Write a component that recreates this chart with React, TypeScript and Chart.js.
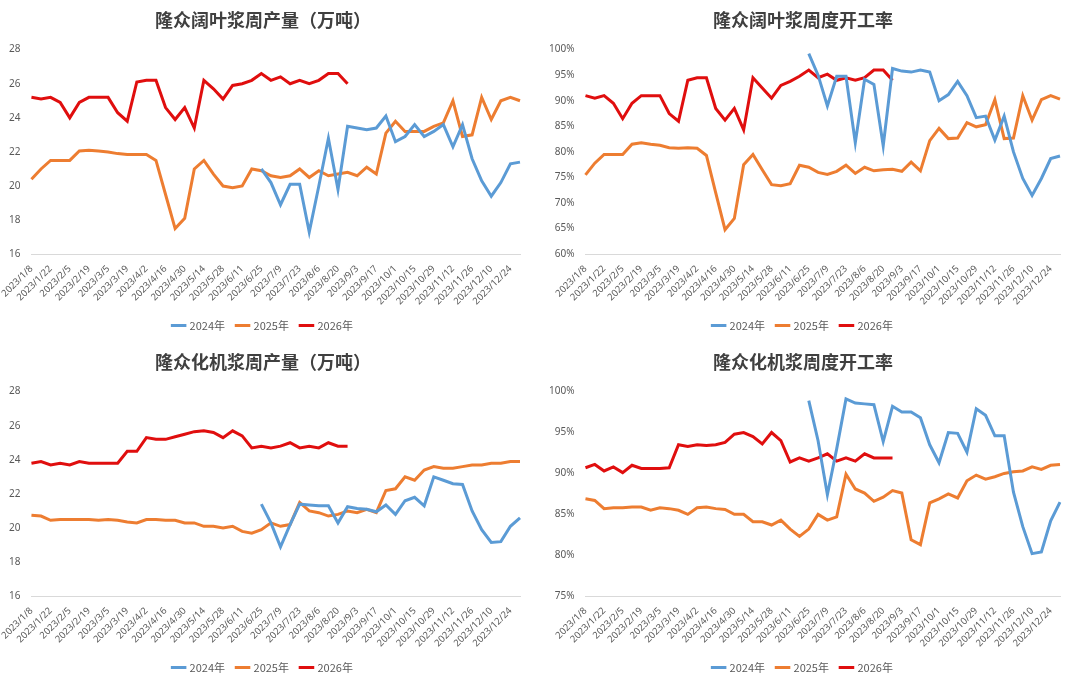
import React, { useEffect, useRef } from "react";
import { Chart, registerables } from "chart.js";
Chart.register(...registerables);

const weeks: string[] = [];
{
  const d = new Date(2023, 0, 8);
  for (let i = 0; i < 52; i++) {
    weeks.push(`${d.getFullYear()}/${d.getMonth() + 1}/${d.getDate()}`);
    d.setDate(d.getDate() + 7);
  }
}
const N = null;
const pad = (n: number) => Array(n).fill(N);

// 隆众阔叶浆周产量
const p1_2024 = [...pad(24), 21.0, 20.2, 18.9, 20.1, 20.1, 17.3, 20.0, 22.8, 19.8, 23.5, 23.4, 23.3, 23.4, 24.1, 22.6, 22.9, 23.6, 22.9, 23.2, 23.6, 22.3, 23.6, 21.6, 20.3, 19.4, 20.2, 21.3, 21.4];
const p1_2025 = [20.4, 21.0, 21.5, 21.5, 21.5, 22.05, 22.1, 22.05, 22.0, 21.9, 21.85, 21.85, 21.85, 21.5, 19.5, 17.5, 18.1, 21.0, 21.5, 20.7, 20.0, 19.9, 20.0, 21.0, 20.9, 20.6, 20.5, 20.6, 21.0, 20.5, 20.9, 20.6, 20.7, 20.8, 20.6, 21.1, 20.7, 23.1, 23.8, 23.2, 23.2, 23.2, 23.5, 23.7, 25.0, 22.9, 23.0, 25.2, 23.9, 25.0, 25.2, 25.0];
const p1_2026 = [25.2, 25.1, 25.2, 24.9, 24.0, 24.9, 25.2, 25.2, 25.2, 24.3, 23.8, 26.1, 26.2, 26.2, 24.6, 23.9, 24.6, 23.4, 26.2, 25.7, 25.1, 25.9, 26.0, 26.2, 26.6, 26.2, 26.4, 26.0, 26.2, 26.0, 26.2, 26.6, 26.6, 26.0];

// 隆众阔叶浆周度开工率 (%)
const p2_2024 = [...pad(24), 99.2, 95, 89, 94.8, 94.8, 81.8, 94.2, 93.2, 81.2, 96.3, 95.8, 95.6, 96, 95.6, 90, 91.2, 93.8, 91, 86.7, 87, 82.3, 87, 80, 74.8, 71.5, 74.8, 78.7, 79.2];
const p2_2025 = [75.5, 77.8, 79.5, 79.5, 79.5, 81.5, 81.8, 81.5, 81.3, 80.8, 80.7, 80.8, 80.7, 79.3, 72, 64.8, 67, 77.5, 79.5, 76.5, 73.6, 73.4, 73.8, 77.4, 77, 76, 75.6, 76.2, 77.4, 75.8, 77, 76.3, 76.5, 76.6, 76.2, 78, 76.3, 82.2, 84.6, 82.6, 82.7, 85.7, 84.9, 85.3, 90.2, 82.6, 82.7, 91, 86.2, 90.2, 91, 90.3];
const p2_2026 = [91, 90.5, 91, 89.5, 86.5, 89.5, 91, 91, 91, 87.5, 86, 94, 94.5, 94.5, 88.5, 86.2, 88.5, 84.3, 94.5, 92.5, 90.5, 93, 93.8, 94.8, 96, 94.5, 95.2, 94, 94.5, 94, 94.5, 96, 96, 94];

// 隆众化机浆周产量
const p3_2024 = [...pad(24), 21.4, 20.3, 18.9, 20.2, 21.4, 21.35, 21.3, 21.3, 20.3, 21.25, 21.15, 21.1, 20.95, 21.35, 20.8, 21.6, 21.8, 21.3, 23.0, 22.8, 22.6, 22.55, 21.0, 19.9, 19.15, 19.2, 20.1, 20.6];
const p3_2025 = [20.75, 20.7, 20.45, 20.5, 20.5, 20.5, 20.5, 20.45, 20.5, 20.45, 20.35, 20.3, 20.5, 20.5, 20.45, 20.45, 20.3, 20.3, 20.1, 20.1, 20.0, 20.1, 19.8, 19.7, 19.9, 20.3, 20.1, 20.2, 21.5, 21.0, 20.9, 20.7, 20.8, 21.0, 20.9, 21.1, 20.9, 22.2, 22.3, 23.0, 22.8, 23.4, 23.6, 23.5, 23.5, 23.6, 23.7, 23.7, 23.8, 23.8, 23.9, 23.9];
const p3_2026 = [23.8, 23.9, 23.7, 23.8, 23.7, 23.9, 23.8, 23.8, 23.8, 23.8, 24.5, 24.5, 25.3, 25.2, 25.2, 25.35, 25.5, 25.65, 25.7, 25.6, 25.3, 25.7, 25.4, 24.7, 24.8, 24.7, 24.8, 25.0, 24.7, 24.8, 24.7, 25.0, 24.8, 24.8];

// 隆众化机浆周度开工率 (%)
const p4_2024 = [...pad(24), 98.9, 94, 87.4, 93, 99.1, 98.6, 98.5, 98.4, 93.9, 98.2, 97.5, 97.5, 96.8, 93.5, 91.3, 95, 94.9, 92.6, 97.9, 97.1, 94.6, 94.6, 87.7, 83.5, 80.2, 80.4, 84.2, 86.5];
const p4_2025 = [86.9, 86.7, 85.7, 85.8, 85.8, 85.9, 85.9, 85.5, 85.8, 85.7, 85.5, 85.0, 85.8, 85.9, 85.7, 85.6, 85.0, 85.0, 84.1, 84.1, 83.7, 84.3, 83.2, 82.3, 83.2, 85.0, 84.3, 84.7, 89.9, 88.1, 87.6, 86.6, 87.1, 87.9, 87.6, 81.9, 81.3, 86.4, 86.9, 87.5, 87.0, 89.1, 89.8, 89.3, 89.6, 90.0, 90.2, 90.3, 90.8, 90.5, 91.0, 91.1];
const p4_2026 = [90.7, 91.1, 90.3, 90.8, 90.1, 91, 90.6, 90.6, 90.6, 90.7, 93.5, 93.3, 93.5, 93.4, 93.5, 93.8, 94.8, 95, 94.5, 93.6, 95, 94, 91.4, 91.9, 91.5, 91.9, 92.4, 91.5, 91.9, 91.5, 92.4, 91.9, 91.9, 91.9];

const seriesNames = ["2024年", "2025年", "2026年"];
const colors = ["#5B9BD5", "#ED7D31", "#E00E0E"];

type PanelProps = { title: string; data: (number | null)[][]; min: number; max: number; step: number; pct: boolean; left: number; top: number };

function Panel({ title, data, min, max, step, pct, left, top }: PanelProps) {
  const ref = useRef<HTMLCanvasElement>(null);
  useEffect(() => {
    const chart = new Chart(ref.current!, {
      type: "line",
      data: {
        labels: weeks,
        datasets: data.map((d, i) => ({
          label: seriesNames[i],
          data: d,
          borderColor: colors[i],
          backgroundColor: colors[i],
          borderWidth: 3,
          pointRadius: 0,
          tension: 0,
          spanGaps: false,
        })),
      },
      options: {
        animation: false,
        responsive: false,
        layout: { padding: { left: 6, right: 20, top: 0, bottom: 0 } },
        plugins: {
          title: { display: true, text: title, color: "#404040", font: { size: 18, weight: "bold", family: "Noto Sans CJK SC" }, padding: { top: 9, bottom: 19 } },
          legend: {
            position: "bottom",
            labels: { usePointStyle: true, pointStyle: "line", boxWidth: 26, color: "#595959", font: { size: 11, family: "Noto Sans CJK SC" }, padding: 12 },
          },
          tooltip: { enabled: false },
        },
        scales: {
          x: {
            grid: { display: false },
            border: { color: "#D9D9D9" },
            ticks: {
              autoSkip: false,
              maxRotation: 45,
              minRotation: 45,
              color: "#595959",
              font: { size: 9.5, family: "Noto Sans" },
              padding: 1,
              callback: (_v: any, i: number) => (i % 2 === 0 ? weeks[i] : ""),
            },
          },
          y: {
            min, max,
            grid: { display: false },
            border: { display: false },
            ticks: {
              stepSize: step,
              color: "#595959",
              font: { size: 10, family: "Noto Sans" },
              callback: (v: any) => (pct ? `${v}%` : `${v}`),
            },
          },
        },
      },
    });
    return () => chart.destroy();
  }, []);
  return <canvas ref={ref} width={540} height={341} style={{ position: "absolute", left, top, width: 540, height: 341 }} />;
}

export default function App() {
  return (
    <div style={{ position: "fixed", left: 0, top: 0, width: 1080, height: 683, background: "#fff" }}>
      <Panel title="隆众阔叶浆周产量（万吨）" data={[p1_2024, p1_2025, p1_2026]} min={16} max={28} step={2} pct={false} left={0} top={0} />
      <Panel title="隆众阔叶浆周度开工率" data={[p2_2024, p2_2025, p2_2026]} min={60} max={100} step={5} pct={true} left={540} top={0} />
      <Panel title="隆众化机浆周产量（万吨）" data={[p3_2024, p3_2025, p3_2026]} min={16} max={28} step={2} pct={false} left={0} top={342} />
      <Panel title="隆众化机浆周度开工率" data={[p4_2024, p4_2025, p4_2026]} min={75} max={100} step={5} pct={true} left={540} top={342} />
    </div>
  );
}
